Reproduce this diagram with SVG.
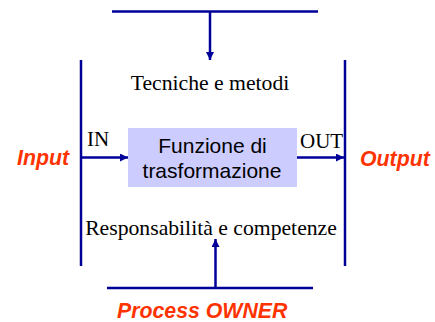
<svg xmlns="http://www.w3.org/2000/svg" width="435" height="322" viewBox="0 0 435 322">
<style>
.ln{stroke:#000099;stroke-width:2.5;fill:none}
.tm{font-family:"Liberation Serif","Times New Roman",serif;font-size:21.7px;fill:#000}
.sm{font-family:"Liberation Serif","Times New Roman",serif;font-size:21px;fill:#000}
.ar{font-family:"Liberation Sans",Arial,sans-serif;font-size:21px;fill:#000}
.rd{font-family:"Liberation Sans",Arial,sans-serif;font-size:21.3px;font-weight:bold;font-style:italic;fill:#ff3300}
</style>
<defs>
<marker id="ah" viewBox="0 0 10 10" refX="10" refY="5" markerWidth="8" markerHeight="8" markerUnits="userSpaceOnUse" orient="auto">
<path d="M0,0 L10,5 L0,10 Z" fill="#000099"/>
</marker>
</defs>
<rect width="435" height="322" fill="#fff"/>
<g id="connectors">
<line class="ln" x1="112" y1="11.5" x2="318" y2="11.5"/>
<line class="ln" x1="210" y1="11.5" x2="210" y2="60" marker-end="url(#ah)"/>
<line class="ln" x1="81" y1="60" x2="81" y2="266"/>
<line class="ln" x1="345" y1="60" x2="345" y2="266"/>
<line class="ln" x1="81" y1="157.5" x2="128" y2="157.5" marker-end="url(#ah)"/>
<line class="ln" x1="297" y1="157.5" x2="344" y2="157.5" marker-end="url(#ah)"/>
<line class="ln" x1="107" y1="288" x2="313" y2="288"/>
<line class="ln" x1="215.5" y1="288" x2="215.5" y2="239" marker-end="url(#ah)"/>
</g>
<g id="tecniche">
<text class="tm" x="210" y="90" text-anchor="middle">Tecniche e metodi</text>
</g>
<g id="funzione">
<rect x="128" y="128" width="169" height="59" fill="#ccccff"/>
<text class="ar" x="212.5" y="153" text-anchor="middle">Funzione di</text>
<text class="ar" x="212" y="178" text-anchor="middle">trasformazione</text>
</g>
<g id="in">
<text class="sm" x="87" y="146">IN</text>
</g>
<g id="out">
<text class="sm" x="300" y="148">OUT</text>
</g>
<g id="input">
<text class="rd" x="17" y="165">Input</text>
</g>
<g id="output">
<text class="rd" x="360" y="166">Output</text>
</g>
<g id="responsabilita">
<text class="tm" x="211" y="235" text-anchor="middle">Responsabilità e competenze</text>
</g>
<g id="owner">
<text class="rd" x="117" y="318">Process OWNER</text>
</g>
</svg>
